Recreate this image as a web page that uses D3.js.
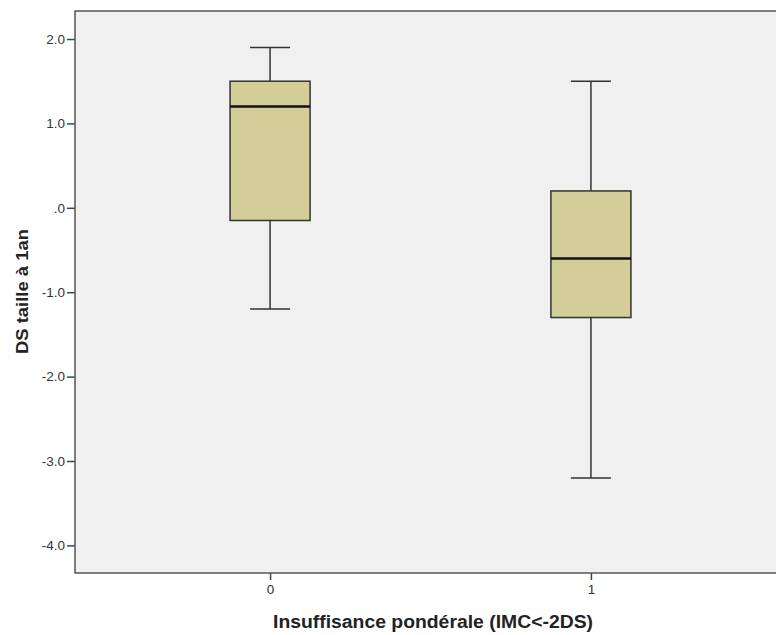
<!DOCTYPE html>
<html><head><meta charset="utf-8">
<script src="https://cdn.jsdelivr.net/npm/d3@7"></script>
<style>body{margin:0;background:#fff;} text{font-family:"Liberation Sans",Arial,sans-serif;}</style>
</head><body>
<svg id="c" width="776" height="635"></svg>
<script>
const categories = ["0", "1"];
const whiskerLow = [-1.2, -3.2];
const q1 = [-0.15, -1.3];
const median = [1.2, -0.6];
const q3 = [1.5, 0.2];
const whiskerHigh = [1.9, 1.5];
const yTicks = [2, 1, 0, -1, -2, -3, -4];
const yTickLabels = ["2.0", "1.0", ".0", "-1.0", "-2.0", "-3.0", "-4.0"];

(function () {
const svg = d3.select("#c");
const pL = 75, pR = 786, pT = 11, pB = 573;
const x = d3.scaleLinear().domain([-0.608, 1.608]).range([pL, pR]);
const y = d3.scaleLinear().domain([2.332, -4.327]).range([pT, pB]);

svg.append("rect").attr("x", pL).attr("y", pT).attr("width", pR - pL).attr("height", pB - pT)
  .attr("fill", "#f0f0f0");

const yAxis = svg.append("g").attr("transform", `translate(${pL},0)`)
  .call(d3.axisLeft(y).tickValues(yTicks).tickFormat((d, i) => yTickLabels[i]).tickSize(8).tickPadding(2));
yAxis.select(".domain").remove();
yAxis.selectAll("line").attr("stroke", "#444").attr("stroke-width", 1.5);
yAxis.selectAll("text").attr("fill", "#333").attr("font-size", 13.5);

const xAxis = svg.append("g").attr("transform", `translate(0,${pB})`)
  .call(d3.axisBottom(x).tickValues(categories.map((c, i) => i)).tickFormat((d) => categories[d]).tickSize(7).tickPadding(4));
xAxis.select(".domain").remove();
xAxis.selectAll("line").attr("stroke", "#444").attr("stroke-width", 1.5);
xAxis.selectAll("text").attr("fill", "#333").attr("font-size", 13.5);

svg.append("path").attr("d", `M${pR},${pT}H${pL}V${pB}H${pR}`)
  .attr("fill", "none").attr("stroke", "#555").attr("stroke-width", 1.5);

const boxW = 80, capW = 40;
categories.forEach((c, i) => {
  const cx = x(i);
  const g = svg.append("g");
  g.append("line").attr("x1", cx).attr("x2", cx).attr("y1", y(whiskerHigh[i])).attr("y2", y(q3[i]))
    .attr("stroke", "#333").attr("stroke-width", 1.5);
  g.append("line").attr("x1", cx).attr("x2", cx).attr("y1", y(q1[i])).attr("y2", y(whiskerLow[i]))
    .attr("stroke", "#333").attr("stroke-width", 1.5);
  g.append("line").attr("x1", cx - capW / 2).attr("x2", cx + capW / 2).attr("y1", y(whiskerHigh[i])).attr("y2", y(whiskerHigh[i]))
    .attr("stroke", "#333").attr("stroke-width", 1.5);
  g.append("line").attr("x1", cx - capW / 2).attr("x2", cx + capW / 2).attr("y1", y(whiskerLow[i])).attr("y2", y(whiskerLow[i]))
    .attr("stroke", "#333").attr("stroke-width", 1.5);
  g.append("rect").attr("x", cx - boxW / 2).attr("width", boxW).attr("y", y(q3[i])).attr("height", y(q1[i]) - y(q3[i]))
    .attr("fill", "#d3ce97").attr("stroke", "#333").attr("stroke-width", 1.5);
  g.append("line").attr("x1", cx - boxW / 2).attr("x2", cx + boxW / 2).attr("y1", y(median[i])).attr("y2", y(median[i]))
    .attr("stroke", "#111").attr("stroke-width", 2.5);
});

svg.append("text").attr("x", 433).attr("y", 628).attr("text-anchor", "middle")
  .attr("font-size", 18).attr("font-weight", "bold").attr("fill", "#222")
  .attr("textLength", 320).attr("lengthAdjust", "spacingAndGlyphs")
  .text("Insuffisance pondérale (IMC<-2DS)");
svg.append("text").attr("transform", "translate(28,291.5) rotate(-90)").attr("text-anchor", "middle")
  .attr("font-size", 17).attr("font-weight", "bold").attr("fill", "#222")
  .attr("textLength", 125).attr("lengthAdjust", "spacingAndGlyphs")
  .text("DS taille à 1an");
})();
</script>
</body></html>
